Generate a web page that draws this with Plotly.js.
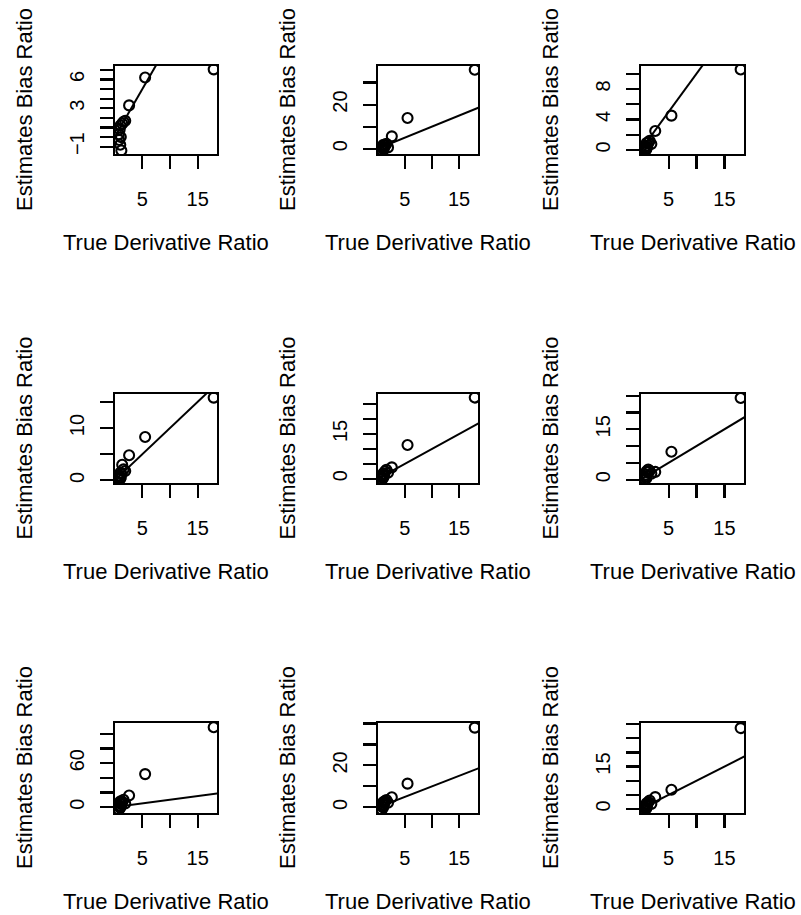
<!DOCTYPE html>
<html>
<head>
<meta charset="utf-8">
<script src="https://cdn.plot.ly/plotly-3.0.1.min.js"></script>
<style>html,body{margin:0;padding:0;background:#fff;}#chart{width:801px;height:915px;}</style>
</head>
<body>
<div id="chart"></div>
<script>
// Shared x values (True Derivative Ratio)
const xVals = [0.75, 0.8, 0.9, 1.0, 1.05, 1.1, 1.2, 1.35, 1.6, 1.9, 2.6, 5.5, 17.9];

// Estimates Bias Ratio, one array per panel
const p1Y = [0.3, -0.3, 0.8, -0.8, 1.2, 0.0, -1.4, 1.4, 1.6, 1.7, 3.3, 6.2, 7.05];
const p2Y = [0.5, -0.9, 1.0, 0.2, 1.8, -0.4, 0.8, 1.5, 2.2, 0.6, 5.6, 13.9, 35.8];
const p3Y = [0.2, -0.1, 0.5, 0.1, 0.9, 0.3, 0.6, 1.0, 1.2, 0.8, 2.5, 4.5, 10.55];
const p4Y = [0.2, 0.5, 0.9, 0.3, 1.5, 0.6, 1.2, 3.0, 2.1, 1.8, 4.8, 8.3, 15.8];
const p5Y = [-0.3, 0.5, 1.2, 0.2, 1.8, 0.8, 1.5, 2.5, 3.0, 2.0, 3.8, 11.3, 27.2];
const p6Y = [0.1, 0.8, 1.5, 0.4, 2.5, 1.0, 2.2, 3.0, 2.6, 1.8, 2.3, 8.3, 24.3];
const p7Y = [-3.5, 2, 6, -1, 8, 1, 4, 7, 10, 5, 15.8, 45, 109];
const p8Y = [-1.1, 0.5, 1.5, 0, 2.5, 1, 2, 3, 3.5, 2.2, 4.8, 11.3, 38];
const p9Y = [-0.2, 0.6, 1.3, 0.2, 2.0, 0.9, 1.6, 2.5, 3.0, 1.8, 4.2, 6.8, 28.6];
const panelY = [p1Y, p2Y, p3Y, p4Y, p5Y, p6Y, p7Y, p8Y, p9Y];

// Axis limits
const xRange = [0.05, 18.5];
const yRanges = [[-1.76, 7.4], [-2.4, 37.5], [-0.52, 11.0],
                 [-0.5, 16.5], [-1.45, 28.4], [-1.0, 25.5],
                 [-8.1, 114.8], [-2.7, 40.2], [-1.4, 30.4]];

// Tick values and labels
const xTickVals = [5, 10, 15];
const xTickText = ['5', '', '15'];
const yTickVals = [[-1,0,1,2,3,4,5,6,7], [0,10,20,30], [0,2,4,6,8,10],
                   [0,5,10,15], [0,5,10,15,20,25], [0,5,10,15,20,25],
                   [0,20,40,60,80,100], [0,10,20,30,40], [0,5,10,15,20,25,30]];
const yTickText = [['\u22121','','','','3','','','6',''], ['0','','20',''], ['0','','4','','8',''],
                   ['0','','10',''], ['0','','','15','',''], ['0','','','15','',''],
                   ['0','','','60','',''], ['0','','20','',''], ['0','','','15','','','']];

const xTitle = 'True Derivative Ratio';
const yTitle = 'Estimates Bias Ratio';

// Layout geometry (px)
const W = 801, H = 915;
const cols = [[115, 217], [378, 478], [641, 744]];
const rows = [[66, 154], [394, 483], [723, 813]];

const FONT = '"Liberation Sans", Arial, Helvetica, sans-serif';
const data = [];
const layout = {
  width: W, height: H,
  margin: {l: 0, r: 0, t: 0, b: 0},
  paper_bgcolor: '#fff', plot_bgcolor: '#fff',
  showlegend: false,
  font: {family: FONT, color: '#000'},
  annotations: []
};

for (let i = 0; i < 9; i++) {
  const r = Math.floor(i / 3), c = i % 3;
  const sfx = i === 0 ? '' : String(i + 1);
  const xa = 'x' + sfx, ya = 'y' + sfx;
  data.push({
    type: 'scatter', mode: 'markers', x: xVals, y: panelY[i],
    xaxis: xa, yaxis: ya, cliponaxis: true,
    marker: {symbol: 'circle-open', size: 10, color: '#000', line: {width: 2.1, color: '#000'}},
    hoverinfo: 'skip'
  });
  data.push({
    type: 'scatter', mode: 'lines', x: [xRange[0], xRange[1] + 5], y: [xRange[0], xRange[1] + 5],
    xaxis: xa, yaxis: ya, line: {color: '#000', width: 2}, hoverinfo: 'skip'
  });
  const common = {
    showgrid: false, zeroline: false, showline: true, mirror: true,
    linecolor: '#000', linewidth: 2.2, ticks: 'outside', ticklen: 13, tickwidth: 2.2,
    tickcolor: '#000', tickfont: {family: FONT, size: 20, color: '#000'}, fixedrange: true
  };
  layout['xaxis' + sfx] = Object.assign({}, common, {
    domain: [cols[c][0] / W, cols[c][1] / W], anchor: ya, range: xRange,
    tickmode: 'array', tickvals: xTickVals, ticktext: xTickText, ticklabelstandoff: 13
  });
  layout['yaxis' + sfx] = Object.assign({}, common, {
    domain: [1 - rows[r][1] / H, 1 - rows[r][0] / H], anchor: xa, range: yRanges[i],
    tickmode: 'array', tickvals: yTickVals[i], ticktext: yTickText[i], tickangle: -90,
    ticklabelstandoff: 8
  });
  layout.annotations.push({
    text: xTitle, xref: 'paper', yref: 'paper', showarrow: false,
    x: (cols[c][0] + cols[c][1]) / 2 / W, y: 1 - (rows[r][1] + 88) / H,
    xanchor: 'center', yanchor: 'middle', font: {family: FONT, size: 22, color: '#000'}
  });
  layout.annotations.push({
    text: yTitle, xref: 'paper', yref: 'paper', showarrow: false, textangle: -90,
    x: (cols[c][0] - 91) / W, y: 1 - (rows[r][0] + rows[r][1]) / 2 / H,
    xanchor: 'center', yanchor: 'middle', font: {family: FONT, size: 22, color: '#000'}
  });
}

Plotly.newPlot('chart', data, layout, {staticPlot: true, displayModeBar: false});
</script>
</body>
</html>
